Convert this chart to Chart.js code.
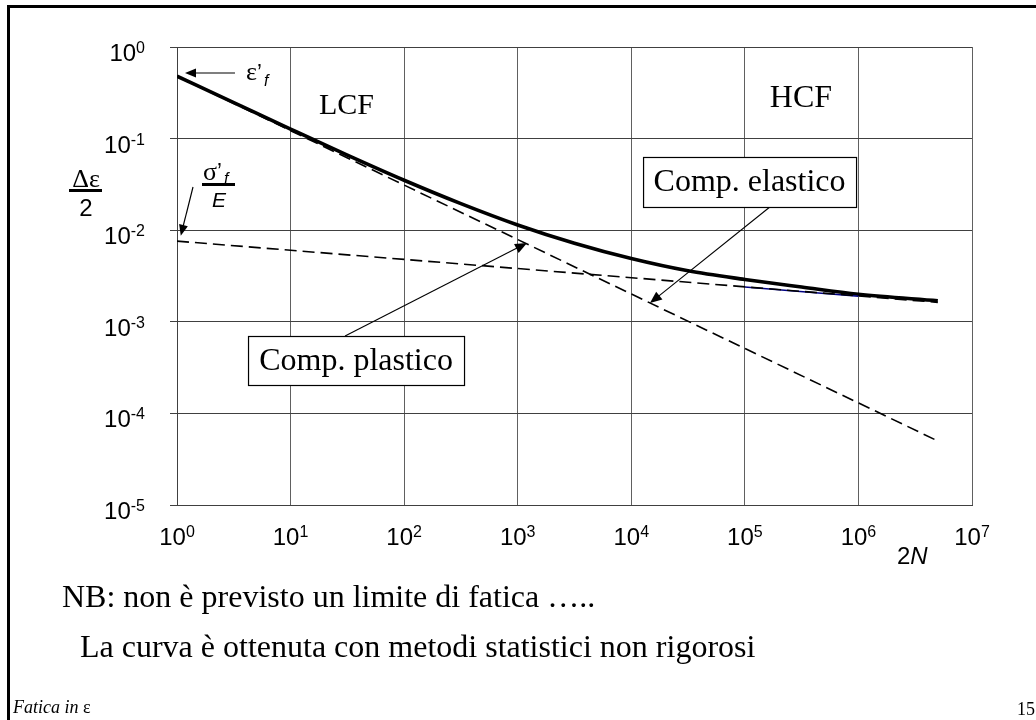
<!DOCTYPE html>
<html><head><meta charset="utf-8">
<script src="https://cdn.jsdelivr.net/npm/chart.js@4/dist/chart.umd.min.js"></script>
<style>html,body{margin:0;padding:0;background:#fff;}canvas{display:block;}</style>
</head><body>
<canvas id="c" width="1036" height="720"></canvas>
<script>
// Reversals 2N sampled along the total strain-life curve
const cycles = [1, 3.16, 10, 31.6, 100, 316, 1000, 3160, 1e4, 3.16e4, 1e5, 3.16e5, 1e6, 5e6];
// Total strain amplitude Δε/2 at those reversals
const totalStrain = [0.48, 0.247, 0.127, 0.066, 0.0351, 0.0195, 0.0114, 0.0072, 0.0049, 0.0036, 0.0029, 0.0024, 0.0020, 0.0017];
// Elastic component (straight in log-log): end points
const elasticCycles = [1, 5e6];
const elasticStrain = [0.0076, 0.00163];
// Plastic component (straight in log-log): end points
const plasticCycles = [1, 5e6];
const plasticStrain = [0.48, 0.00005];
// Short solid stretch of the elastic line
const blueCycles = [1e5, 1e6];
const blueStrain = [0.0024, 0.0019];
// Decade exponents for the axes
const xDecades = [0, 1, 2, 3, 4, 5, 6, 7];
const yDecades = [0, -1, -2, -3, -4, -5];

const SANS = '"Liberation Sans", Arial, sans-serif';
const SERIF = '"Liberation Serif", "Times New Roman", serif';

function pts(xs, ys) { return xs.map((x, i) => ({ x: x, y: ys[i] })); }

function arrow(ctx, x1, y1, x2, y2, len, half) {
  const a = Math.atan2(y2 - y1, x2 - x1);
  ctx.beginPath();
  ctx.moveTo(x1, y1);
  ctx.lineTo(x2 - Math.cos(a) * len * 0.8, y2 - Math.sin(a) * len * 0.8);
  ctx.stroke();
  ctx.beginPath();
  ctx.moveTo(x2, y2);
  ctx.lineTo(x2 - Math.cos(a) * len + Math.sin(a) * half, y2 - Math.sin(a) * len - Math.cos(a) * half);
  ctx.lineTo(x2 - Math.cos(a) * len - Math.sin(a) * half, y2 - Math.sin(a) * len + Math.cos(a) * half);
  ctx.closePath();
  ctx.fill();
}

function powerLabel(ctx, exp, rightX, centerX, baseY) {
  ctx.font = '24px ' + SANS;
  const wb = ctx.measureText('10').width;
  ctx.font = '16px ' + SANS;
  const sup = String(exp);
  const ws = ctx.measureText(sup).width;
  let left = rightX != null ? rightX - wb - ws : centerX - (wb + ws) / 2;
  ctx.font = '24px ' + SANS;
  ctx.fillText('10', left, baseY);
  ctx.font = '16px ' + SANS;
  ctx.fillText(sup, left + wb, baseY - 8);
}

const slidePlugin = {
  id: 'slide',
  afterDraw(chart) {
    const ctx = chart.ctx;
    const xs = chart.scales.x, ys = chart.scales.y;
    const X = v => xs.getPixelForValue(v), Y = v => ys.getPixelForValue(v);
    ctx.save();
    ctx.fillStyle = '#000';
    ctx.strokeStyle = '#000';
    ctx.textBaseline = 'alphabetic';
    ctx.textAlign = 'left';

    // slide frame
    ctx.fillRect(7, 5, 1029, 3);
    ctx.fillRect(7, 5, 3, 715);

    // tick labels as powers of ten
    yDecades.forEach(k => powerLabel(ctx, k, 145, null, Y(Math.pow(10, k)) + 14));
    xDecades.forEach(k => powerLabel(ctx, k, null, X(Math.pow(10, k)), 545));

    // x axis title 2N
    ctx.font = '24px ' + SANS;
    ctx.fillText('2', 897, 564);
    const w2 = ctx.measureText('2').width;
    ctx.font = 'italic 24px ' + SANS;
    ctx.fillText('N', 897 + w2, 564);

    // y axis title Δε / 2
    ctx.textAlign = 'center';
    ctx.font = '26px ' + SERIF;
    ctx.fillText('Δε', 86, 187);
    ctx.fillRect(69, 189, 33, 3);
    ctx.font = '24px ' + SANS;
    ctx.fillText('2', 86, 216);

    // σ'f / E
    ctx.textAlign = 'left';
    ctx.font = '26px ' + SERIF;
    ctx.fillText('σ', 203, 180);
    const wsig = ctx.measureText('σ').width;
    ctx.font = '22px ' + SANS;
    ctx.fillText('’', 203 + wsig, 178);
    ctx.font = 'italic 16px ' + SANS;
    ctx.fillText('f', 203 + wsig + 7, 184);
    ctx.fillRect(202, 183, 33, 3);
    ctx.textAlign = 'center';
    ctx.font = 'italic 21px ' + SANS;
    ctx.fillText('E', 219, 207);

    // ε'f
    ctx.textAlign = 'left';
    ctx.font = '26px ' + SERIF;
    ctx.fillText('ε', 246, 80);
    const weps = ctx.measureText('ε').width;
    ctx.font = '22px ' + SANS;
    ctx.fillText('’', 246 + weps, 79);
    ctx.font = 'italic 16px ' + SANS;
    ctx.fillText('f', 246 + weps + 7, 86);

    // arrows to the curve origins
    ctx.lineWidth = 1.2;
    arrow(ctx, X(3.24), Y(0.52), X(1.176), Y(0.52), 11, 4.5);
    arrow(ctx, 193, 187, X(1.08), Y(0.0087), 11, 4.5);

    // regime labels
    ctx.textAlign = 'center';
    ctx.textBaseline = 'middle';
    ctx.font = '30px ' + SERIF;
    ctx.fillText('LCF', X(31.1), Y(0.224));
    ctx.font = '32px ' + SERIF;
    ctx.fillText('HCF', X(3.12e5), Y(0.2705));

    // labelled boxes
    function box(text, cx, cy, hw, hh) {
      ctx.fillStyle = '#fff';
      ctx.fillRect(cx - hw, cy - hh, hw * 2, hh * 2);
      ctx.strokeStyle = '#000';
      ctx.lineWidth = 1.2;
      ctx.strokeRect(cx - hw + 0.5, cy - hh + 0.5, hw * 2, hh * 2);
      ctx.fillStyle = '#000';
      ctx.font = '32px ' + SERIF;
      ctx.fillText(text, cx, cy + 1);
    }
    ctx.lineWidth = 1.1;
    arrow(ctx, X(1.66e5), Y(0.0179), X(1.46e4), Y(0.0016), 12, 5);
    arrow(ctx, X(30.2), Y(7.0e-4), X(1208), Y(0.00725), 12, 5);
    box('Comp. elastico', X(1.10e5), Y(0.0336), 106.5, 25);
    box('Comp. plastico', X(37.7), Y(3.78e-4), 108, 24.5);

    // slide text
    ctx.textAlign = 'left';
    ctx.textBaseline = 'alphabetic';
    ctx.font = '32px ' + SERIF;
    ctx.fillText('NB: non è previsto un limite di fatica …..', 62, 607);
    ctx.fillText('La curva è ottenuta con metodi statistici non rigorosi', 80, 657);
    ctx.font = 'italic 18px ' + SERIF;
    ctx.fillText('Fatica in ', 13, 713);
    const wf = ctx.measureText('Fatica in ').width;
    ctx.font = '18px ' + SERIF;
    ctx.fillText('ε', 13 + wf, 713);
    ctx.textAlign = 'right';
    ctx.fillText('15', 1035, 715);
    ctx.restore();
  }
};

const decadeTicks = exps => scale => { scale.ticks = exps.map(k => ({ value: Math.pow(10, k) })); };

new Chart(document.getElementById('c'), {
  type: 'line',
  data: {
    datasets: [
      { data: pts(elasticCycles, elasticStrain), borderColor: '#000', borderWidth: 1.6, borderDash: [12, 6], pointRadius: 0 },
      { data: pts(plasticCycles, plasticStrain), borderColor: '#000', borderWidth: 1.6, borderDash: [12, 6], pointRadius: 0 },
      { data: pts(blueCycles, blueStrain), borderColor: '#000080', borderWidth: 1.5, pointRadius: 0 },
      { data: pts(cycles, totalStrain), borderColor: '#000', borderWidth: 3.6, pointRadius: 0, cubicInterpolationMode: 'monotone' }
    ]
  },
  options: {
    responsive: false,
    animation: false,
    devicePixelRatio: 1,
    layout: { padding: { left: 170, top: 47, right: 64, bottom: 215 } },
    plugins: { legend: { display: false }, tooltip: { enabled: false } },
    scales: {
      x: {
        type: 'logarithmic', min: 1, max: 1e7,
        afterBuildTicks: decadeTicks(xDecades),
        afterFit: s => { s.height = 0; },
        ticks: { display: false },
        grid: { color: '#606060', lineWidth: 1, drawTicks: false },
        border: { color: '#404040', width: 1 }
      },
      y: {
        type: 'logarithmic', min: 1e-5, max: 1,
        afterBuildTicks: decadeTicks(yDecades),
        afterFit: s => { s.width = 7; },
        ticks: { display: false },
        grid: { color: '#404040', lineWidth: 1, drawTicks: true, tickLength: 7 },
        border: { color: '#404040', width: 1 }
      }
    }
  },
  plugins: [slidePlugin]
});
</script>
</body></html>
